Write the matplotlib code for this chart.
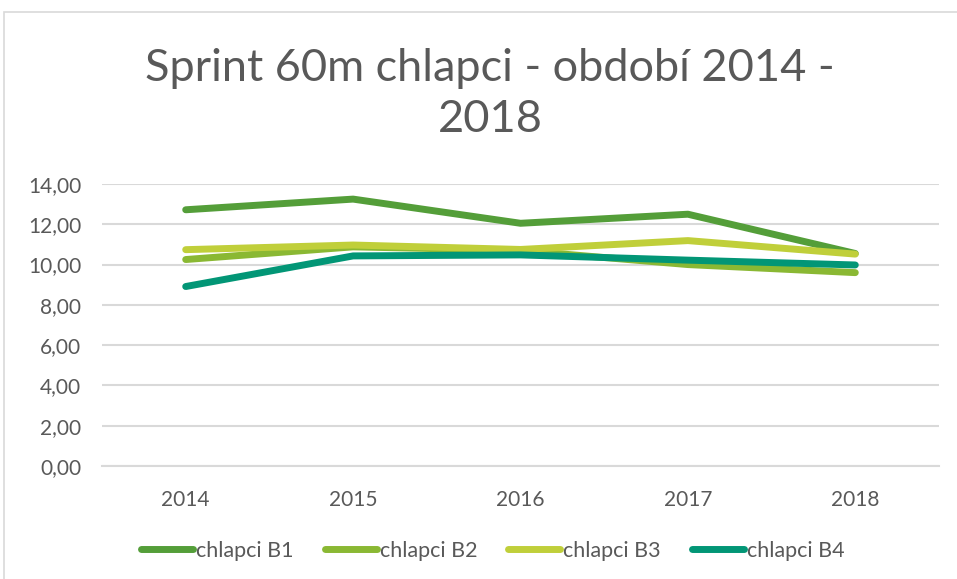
import numpy as np
import matplotlib
matplotlib.use('Agg')
import matplotlib.pyplot as plt
from matplotlib.patches import Rectangle

years = ['2014', '2015', '2016', '2017', '2018']
b1 = [12.72, 13.25, 12.05, 12.50, 10.55]
b2 = [10.25, 10.88, 10.70, 10.00, 9.60]
b3 = [10.74, 10.97, 10.75, 11.19, 10.52]
b4 = [8.91, 10.43, 10.48, 10.22, 9.98]
series = ['chlapci B1', 'chlapci B2', 'chlapci B3', 'chlapci B4']
colors = ['#549E39', '#8AB833', '#C0CF3A', '#029676']

plt.rcParams['font.family'] = ['Lato', 'DejaVu Sans']
txt_c = '#595959'
grid_c = '#D9D9D9'

fig = plt.figure(figsize=(9.57, 5.79), dpi=100)
ax = fig.add_axes([102/957, 1 - 466/579, (939 - 102)/957, (466 - 184)/579])

x = np.arange(len(years))
for vals, name, c in zip([b1, b2, b3, b4], series, colors):
    ax.plot(x, vals, color=c, lw=5, solid_capstyle='round', label=name)

ax.set_xlim(-0.5, len(years) - 0.5)
ax.set_ylim(0, 14)
ax.set_yticks(np.arange(0, 15, 2))
ax.set_yticklabels(['%d,00' % v for v in range(0, 15, 2)])
ax.set_xticks(x)
ax.set_xticklabels(years)
ax.yaxis.grid(True, color=grid_c, lw=1.5)
ax.set_axisbelow(True)
for s in ['top', 'right', 'left']:
    ax.spines[s].set_visible(False)
ax.spines['bottom'].set_color(grid_c)
ax.spines['bottom'].set_linewidth(1.5)
ax.tick_params(axis='both', length=0, labelsize=15, labelcolor=txt_c)
ax.tick_params(axis='y', pad=15)
ax.tick_params(axis='x', pad=17)

fig.text(490/957, 1 - 48/579, 'Sprint 60m chlapci - období 2014 -\n2018',
         ha='center', va='top', fontsize=32.5, color=txt_c, linespacing=1.3)

leg = fig.legend(loc='center', bbox_to_anchor=(493/957, 1 - 551/579), ncol=4,
                 frameon=False, fontsize=15.5, handlelength=2.4, handletextpad=0.15,
                 columnspacing=1.45)
for t in leg.get_texts():
    t.set_color(txt_c)

# chart border
fig.patches.append(Rectangle((4/957, -0.1), 2, 1.1 - 12/579, transform=fig.transFigure,
                             fill=False, ec=grid_c, lw=1.2))

plt.savefig('out.png', dpi=100)
